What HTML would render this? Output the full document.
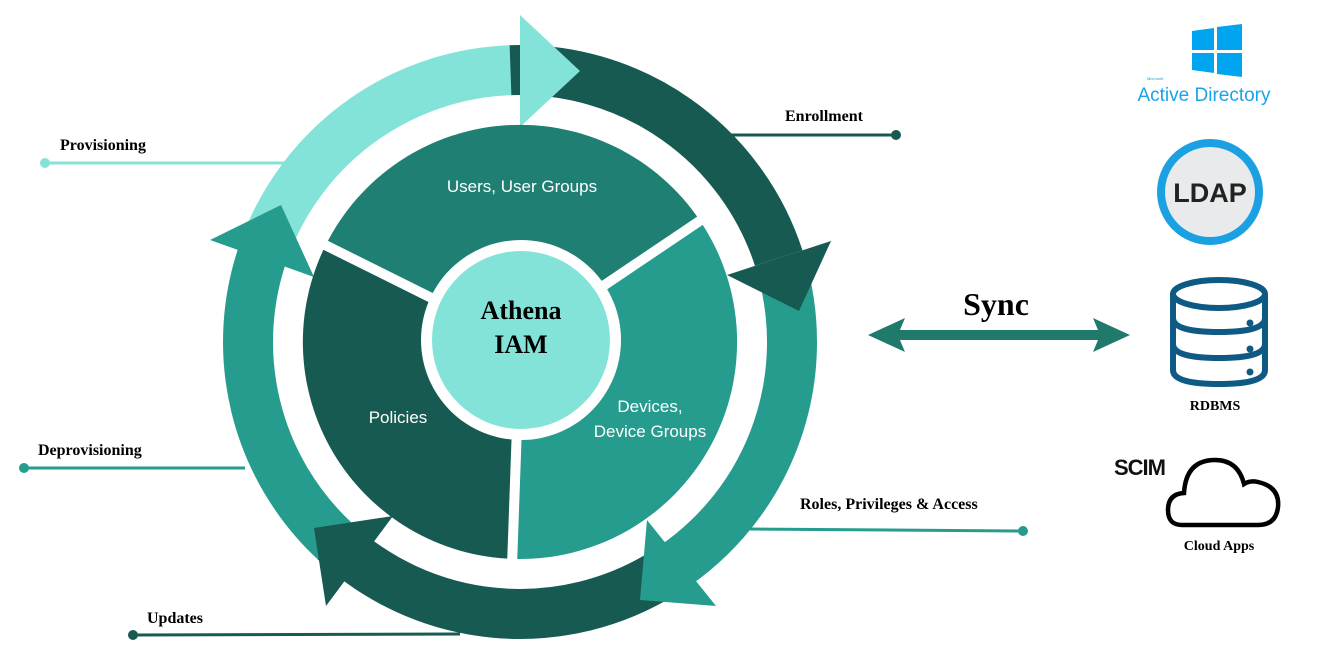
<!DOCTYPE html>
<html><head><meta charset="utf-8"><style>
html,body{margin:0;padding:0;background:#fff;}
svg{display:block}
.serif{font-family:"Liberation Serif",serif;font-weight:bold;}
.sans{font-family:"Liberation Sans",sans-serif;}
</style></head><body>
<svg width="1318" height="659" viewBox="0 0 1318 659" xmlns="http://www.w3.org/2000/svg">
<line x1="45" y1="163" x2="290" y2="163" stroke="#84e3d8" stroke-width="3"/>
<circle cx="45" cy="163" r="5" fill="#84e3d8"/>
<text x="60" y="150" class="serif" font-size="16">Provisioning</text>
<line x1="24" y1="468" x2="245" y2="468" stroke="#269c8e" stroke-width="3"/>
<circle cx="24" cy="468" r="5" fill="#269c8e"/>
<text x="38" y="455" class="serif" font-size="16">Deprovisioning</text>
<line x1="133" y1="635" x2="460" y2="634" stroke="#175a52" stroke-width="3"/>
<circle cx="133" cy="635" r="5" fill="#175a52"/>
<text x="147" y="623" class="serif" font-size="16">Updates</text>
<line x1="725" y1="135" x2="896" y2="135" stroke="#175a52" stroke-width="3"/>
<circle cx="896" cy="135" r="5" fill="#175a52"/>
<text x="785" y="121" class="serif" font-size="16">Enrollment</text>
<line x1="750" y1="529" x2="1023" y2="531" stroke="#269c8e" stroke-width="3"/>
<circle cx="1023" cy="531" r="5" fill="#269c8e"/>
<text x="800" y="509" class="serif" font-size="16">Roles, Privileges &amp; Access</text>

<g fill="none" stroke-width="50">
<path d="M 264.4 249 A 272 272 0 0 1 520 70" stroke="#84e3d8"/>
<path d="M 510.5 70.2 A 272 272 0 0 1 778.7 258" stroke="#175a52"/>
<path d="M 778.7 258 A 272 272 0 0 1 656 577.6" stroke="#269c8e"/>
<path d="M 664 572.7 A 272 272 0 0 1 334.5 540.9" stroke="#175a52"/>
<path d="M 334.5 540.9 A 272 272 0 0 1 264.4 249" stroke="#269c8e"/>
</g>
<polygon points="520,15 520,127 580,71" fill="#84e3d8"/>
<polygon points="831,241 727,275 799,311" fill="#175a52"/>
<polygon points="647,520 640,600 716,606" fill="#269c8e"/>
<polygon points="314,528 393,516 326,606" fill="#175a52"/>
<polygon points="210,240 314,277 281,205" fill="#269c8e"/>

<path d="M520 342 L325.6 245.3 A217 217 0 0 1 700 220.7 Z" fill="#1f7f73"/>
<path d="M520 342 L700 220.7 A217 217 0 0 1 512.4 558.9 Z" fill="#269c8e"/>
<path d="M520 342 L512.4 558.9 A217 217 0 0 1 325.6 245.3 Z" fill="#175a52"/>
<g stroke="#fff" stroke-width="10" fill="none">
<line x1="520" y1="342" x2="318" y2="241.5"/>
<line x1="520" y1="342" x2="707" y2="216"/>
<line x1="520" y1="342" x2="512" y2="566"/>
</g>
<circle cx="521" cy="340" r="100" fill="#fff"/>
<circle cx="521" cy="340" r="89" fill="#84e3d8"/>
<text x="521" y="319" text-anchor="middle" class="serif" font-size="26">Athena</text>
<text x="521" y="353" text-anchor="middle" class="serif" font-size="26">IAM</text>
<text x="522" y="192" text-anchor="middle" class="sans" font-size="17" fill="#fff">Users, User Groups</text>
<text x="398" y="423" text-anchor="middle" class="sans" font-size="17" fill="#fff">Policies</text>
<text x="650" y="412" text-anchor="middle" class="sans" font-size="17" fill="#fff">Devices,</text>
<text x="650" y="437" text-anchor="middle" class="sans" font-size="17" fill="#fff">Device Groups</text>

<text x="996" y="315" text-anchor="middle" class="serif" font-size="32">Sync</text>
<polygon points="868,335 905,318 900,330 1098,330 1093,318 1130,335 1093,352 1098,340 900,340 905,352" fill="#1f7a6c"/>

<g fill="#00a4ef">
<polygon points="1192,31 1214,28 1214,50 1192,50"/>
<polygon points="1217,27 1242,24 1242,50 1217,50"/>
<polygon points="1192,53 1214,53 1214,73 1192,70"/>
<polygon points="1217,53 1242,53 1242,77 1217,74"/>
</g>
<text x="1147" y="80" font-family="Liberation Sans,sans-serif" font-size="4" fill="#1aa3e8">Microsoft</text>
<text x="1204" y="101" text-anchor="middle" font-family="Liberation Sans,sans-serif" font-size="19" fill="#1aa3e8">Active Directory</text>
<circle cx="1210" cy="192" r="49" fill="#e9eaeb" stroke="#1ba1e2" stroke-width="8"/>
<text x="1210" y="202" text-anchor="middle" font-family="Liberation Sans,sans-serif" font-weight="bold" font-size="27" fill="#222">LDAP</text>
<g fill="none" stroke="#0e5a85" stroke-width="6">
<ellipse cx="1219" cy="294" rx="46" ry="14"/>
<path d="M1173 294 V370 Q1173 384 1219 384 Q1265 384 1265 370 V294"/>
<path d="M1173 318 Q1173 332 1219 332 Q1265 332 1265 318"/>
<path d="M1173 344 Q1173 358 1219 358 Q1265 358 1265 344"/>
</g>
<g fill="#0e5a85"><circle cx="1250" cy="323" r="3.5"/><circle cx="1250" cy="349" r="3.5"/><circle cx="1250" cy="372" r="3.5"/></g>
<text x="1215" y="410" text-anchor="middle" class="serif" font-size="14">RDBMS</text>
<text x="1114" y="475" font-family="Liberation Sans,sans-serif" font-weight="bold" font-size="22" letter-spacing="-1" fill="#111">SCIM</text>
<path d="M1182 525 Q1168 525 1168 510 Q1168 494 1184 493 Q1186 460 1215 460 Q1238 460 1244 484 Q1250 480 1258 482 Q1280 487 1278 507 Q1276 525 1258 525 Z" fill="none" stroke="#000" stroke-width="4.5"/>
<text x="1219" y="550" text-anchor="middle" class="serif" font-size="14">Cloud Apps</text>
</svg>
</body></html>
